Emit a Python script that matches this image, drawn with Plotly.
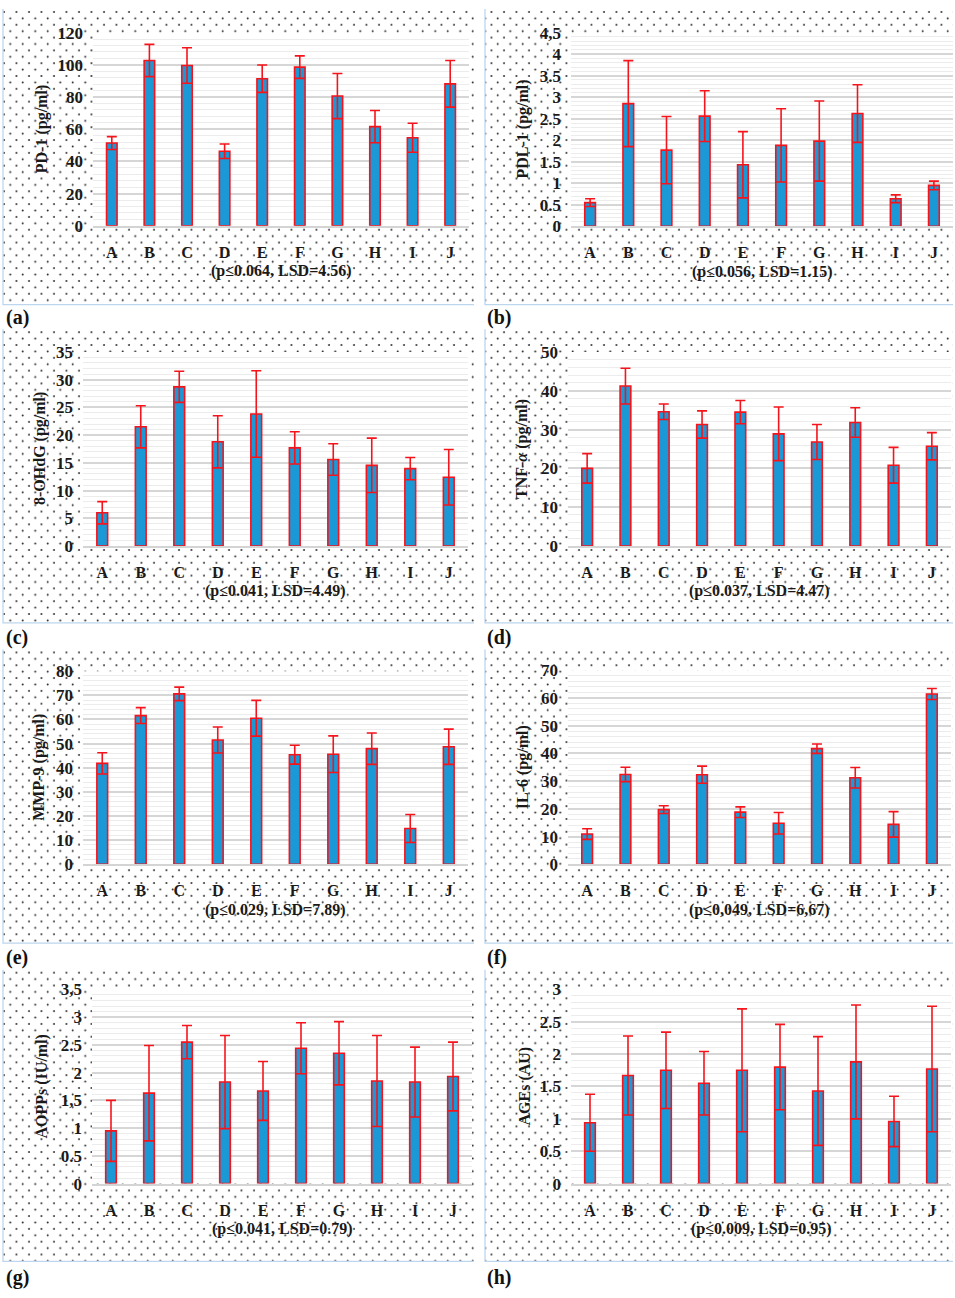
import base64
import plotly.graph_objects as go

# ---------------- data ----------------
categories = ["A", "B", "C", "D", "E", "F", "G", "H", "I", "J"]

pd1_mean = [51.4, 102.7, 99.6, 46.3, 91.4, 98.6, 80.6, 61.6, 54.7, 88.2]
pd1_err = [4.0, 10.0, 11.0, 4.5, 8.5, 7.0, 14.0, 10.0, 9.0, 14.5]

pdl1_mean = [0.55, 2.85, 1.77, 2.56, 1.43, 1.88, 1.98, 2.62, 0.64, 0.95]
pdl1_err = [0.09, 1.0, 0.78, 0.59, 0.77, 0.85, 0.93, 0.67, 0.09, 0.1]

ohdg_mean = [6.0, 21.5, 28.7, 18.8, 23.8, 17.7, 15.6, 14.55, 13.96, 12.4]
ohdg_err = [2.0, 3.8, 2.8, 4.7, 7.8, 2.9, 2.85, 4.9, 2.0, 5.0]

tnf_mean = [20.0, 41.2, 34.6, 31.3, 34.5, 28.9, 26.8, 31.8, 20.8, 25.7]
tnf_err = [3.8, 4.6, 2.0, 3.5, 3.0, 6.9, 4.5, 3.8, 4.6, 3.5]

mmp9_mean = [41.8, 61.6, 70.6, 51.5, 60.5, 45.4, 45.6, 47.9, 14.8, 48.7]
mmp9_err = [4.4, 3.3, 2.8, 5.4, 7.4, 3.9, 7.6, 6.5, 5.8, 7.3]

il6_mean = [10.9, 32.4, 19.7, 32.3, 18.8, 14.8, 41.7, 31.2, 14.4, 61.4]
il6_err = [1.9, 2.6, 1.4, 3.1, 1.9, 3.9, 1.7, 3.7, 4.6, 2.0]

aopp_mean = [0.95, 1.63, 2.55, 1.83, 1.67, 2.44, 2.35, 1.85, 1.83, 1.93]
aopp_err = [0.55, 0.86, 0.30, 0.84, 0.53, 0.46, 0.57, 0.82, 0.63, 0.62]

ages_mean = [0.94, 1.67, 1.75, 1.55, 1.75, 1.80, 1.43, 1.88, 0.96, 1.77]
ages_err = [0.44, 0.61, 0.59, 0.49, 0.95, 0.66, 0.84, 0.88, 0.39, 0.97]

y_titles = ["PD-1 (pg/ml)", "PDL-1 (pg/ml)", "8-OHdG (pg/ml)", "TNF-<i>α</i> (pg/ml)",
            "MMP-9 (pg/ml)", "IL-6 (pg/ml)", "AOPPs (IU/ml)", "AGEs (AU)"]
x_titles = ["(p≤0.064, LSD=4.56)", "(p≤0.056, LSD=1.15)", "(p≤0.041, LSD=4.49)",
            "(p≤0.037, LSD=4.47)", "(p≤0.029, LSD=7.89)", "(p≤0,049, LSD=6,67)",
            "(p≤0.041, LSD=0.79)", "(p≤0.009, LSD=0.95)"]
panel_labels = ["(a)", "(b)", "(c)", "(d)", "(e)", "(f)", "(g)", "(h)"]

ticks_a = [0, 20, 40, 60, 80, 100, 120]
ticks_b = [0, 0.5, 1, 1.5, 2, 2.5, 3, 3.5, 4, 4.5]
ticktext_b = ["0", "0.5", "1", "1.5", "2", "2.5", "3", "3.5", "4", "4,5"]
ticks_c = [0, 5, 10, 15, 20, 25, 30, 35]
ticks_d = [0, 10, 20, 30, 40, 50]
ticks_e = [0, 10, 20, 30, 40, 50, 60, 70, 80]
ticks_f = [0, 10, 20, 30, 40, 50, 60, 70]
ticks_g = [0, 0.5, 1, 1.5, 2, 2.5, 3, 3.5]
ticktext_g = ["0", "0.5", "1", "1,5", "2", "2.5", "3", "3,5"]
ticks_h = [0, 0.5, 1, 1.5, 2, 2.5, 3]
ticktext_h = ["0", "0.5", "1", "1.5", "2", "2.5", "3"]

means = [pd1_mean, pdl1_mean, ohdg_mean, tnf_mean, mmp9_mean, il6_mean, aopp_mean, ages_mean]
errs = [pd1_err, pdl1_err, ohdg_err, tnf_err, mmp9_err, il6_err, aopp_err, ages_err]
tickvals = [ticks_a, ticks_b, ticks_c, ticks_d, ticks_e, ticks_f, ticks_g, ticks_h]
ticktexts = [[str(v) for v in ticks_a], ticktext_b, [str(v) for v in ticks_c],
             [str(v) for v in ticks_d], [str(v) for v in ticks_e], [str(v) for v in ticks_f],
             ticktext_g, ticktext_h]

# ---------------- layout geometry (pixels) ----------------
W, H = 955, 1298
# plot areas: (left, right, top, bottom)
plot_px = [(93, 469, 24, 220), (571, 953, 24, 220.5),
           (83, 468, 348, 545), (568, 951, 348, 545),
           (83, 468, 672, 868), (568, 951, 671, 868),
           (92, 472, 995, 1192), (571, 951, 995, 1192)]
ytitle_x = [42, 523, 40, 522, 39, 523, 42, 525]
boxes = [(3, 0, 474, 300), (485, 0, 953, 300),
         (3, 325, 474, 623), (485, 325, 953, 623),
         (3, 650, 474, 948), (485, 650, 953, 948),
         (3, 975, 474, 1271), (485, 975, 953, 1271)]
label_pos = [(4, 313), (485, 313), (4, 638), (485, 638),
             (4, 963), (485, 963), (4, 1287), (485, 1287)]

BLUE = "#1b98d6"
RED = "#f5141c"
TXT = "#1a1a1a"
FONT = "Liberation Serif"

def px(x):
    return x / W

def py(y):
    return 1 - y / H

fig = go.Figure()
annotations = []
shapes = []

for i in range(8):
    n = i + 1
    xa = "x" if n == 1 else f"x{n}"
    ya = "y" if n == 1 else f"y{n}"
    l, r, t, b = plot_px[i]
    ymax = tickvals[i][-1]
    major = tickvals[i][1] - tickvals[i][0]
    fig.add_trace(go.Bar(
        x=categories, y=means[i], width=0.28,
        marker=dict(color=BLUE, line=dict(color=RED, width=1.6)),
        error_y=dict(type="data", array=errs[i], color=RED, thickness=1.6, width=5),
        xaxis=xa, yaxis=ya, showlegend=False,
    ))
    xkey = "xaxis" if n == 1 else f"xaxis{n}"
    ykey = "yaxis" if n == 1 else f"yaxis{n}"
    fig.update_layout(**{
        xkey: dict(domain=[px(l), px(r)], anchor=ya, type="category",
                   range=[-0.5, 9.5], showgrid=False, zeroline=False,
                   showline=True, linecolor="#d4d4d4", linewidth=2,
                   ticks="", ticklabelstandoff=11,
                   tickfont=dict(family=FONT, size=16, color=TXT, weight="bold")),
        ykey: dict(domain=[py(b), py(t)], anchor=xa, range=[0, ymax],
                   tickmode="array", tickvals=tickvals[i], ticktext=ticktexts[i],
                   showgrid=True, gridcolor="#d6d6d6", gridwidth=2,
                   minor=dict(tickmode="linear", tick0=0, dtick=major / 5,
                              showgrid=True, gridcolor="#ececec", gridwidth=1),
                   zeroline=False, showline=False, ticks="", ticklabelstandoff=9,
                   tickfont=dict(family=FONT, size=17, color=TXT, weight="bold")),
    })
    # white plot area over the dotted background
    shapes.append(dict(type="rect", xref=f"{xa} domain", yref=f"{ya} domain",
                       x0=0, x1=1, y0=0, y1=1, fillcolor="white",
                       line=dict(width=0), layer="below"))
    annotations.append(dict(text=f"<b>{y_titles[i]}</b>", xref="paper", yref="paper",
                            x=px(ytitle_x[i]), y=py((t + b) / 2), textangle=-90,
                            showarrow=False, xanchor="center", yanchor="middle",
                            font=dict(family=FONT, size=16, color=TXT)))
    annotations.append(dict(text=f"<b>{x_titles[i]}</b>", xref="paper", yref="paper",
                            x=px((l + r) / 2), y=py(b + 46), showarrow=False,
                            xanchor="center", yanchor="middle",
                            font=dict(family=FONT, size=16, color=TXT)))
    lx, ly = label_pos[i]
    annotations.append(dict(text=f"<b>{panel_labels[i]}</b>", xref="paper", yref="paper",
                            x=px(lx), y=py(ly), showarrow=False,
                            xanchor="left", yanchor="middle",
                            font=dict(family=FONT, size=20, color="#111111")))

# dotted panel backgrounds (left and bottom light-blue edges) as an SVG image
parts = []
for (x0, y0, x1, y1) in boxes:
    parts.append(f'<rect x="{x0}" y="{y0}" width="{x1 - x0}" height="{y1 - y0}" fill="url(#d)"/>')
    parts.append(f'<polyline points="{x0},{y0} {x0},{y1} {x1},{y1}" fill="none" '
                 f'stroke="#bcd6ee" stroke-width="1.3"/>')
svg = (f'<svg xmlns="http://www.w3.org/2000/svg" width="{W}" height="{H}" '
       f'viewBox="0 0 {W} {H}"><defs><pattern id="d" width="12.5" height="13" '
       f'patternUnits="userSpaceOnUse"><circle cx="4" cy="3" r="0.95" fill="#1e1e1e"/>'
       f'<circle cx="10.25" cy="9.5" r="0.95" fill="#1e1e1e"/></pattern></defs>'
       f'<rect x="0" y="0" width="{W}" height="{H}" fill="white"/>{"".join(parts)}</svg>')
src = "data:image/svg+xml;base64," + base64.b64encode(svg.encode()).decode()

fig.update_layout(
    width=W, height=H, margin=dict(l=0, r=0, t=0, b=0),
    paper_bgcolor="white", plot_bgcolor="white",
    bargap=0.7, showlegend=False,
    annotations=annotations, shapes=shapes,
    images=[dict(source=src, xref="paper", yref="paper", x=0, y=1, sizex=1, sizey=1,
                 xanchor="left", yanchor="top", sizing="stretch", layer="below")],
)

fig.write_html(
    "out.html",
    config={"displayModeBar": False},
    post_script="document.documentElement.style.margin='0';"
                "document.body.style.margin='0';document.body.style.padding='0';",
)
